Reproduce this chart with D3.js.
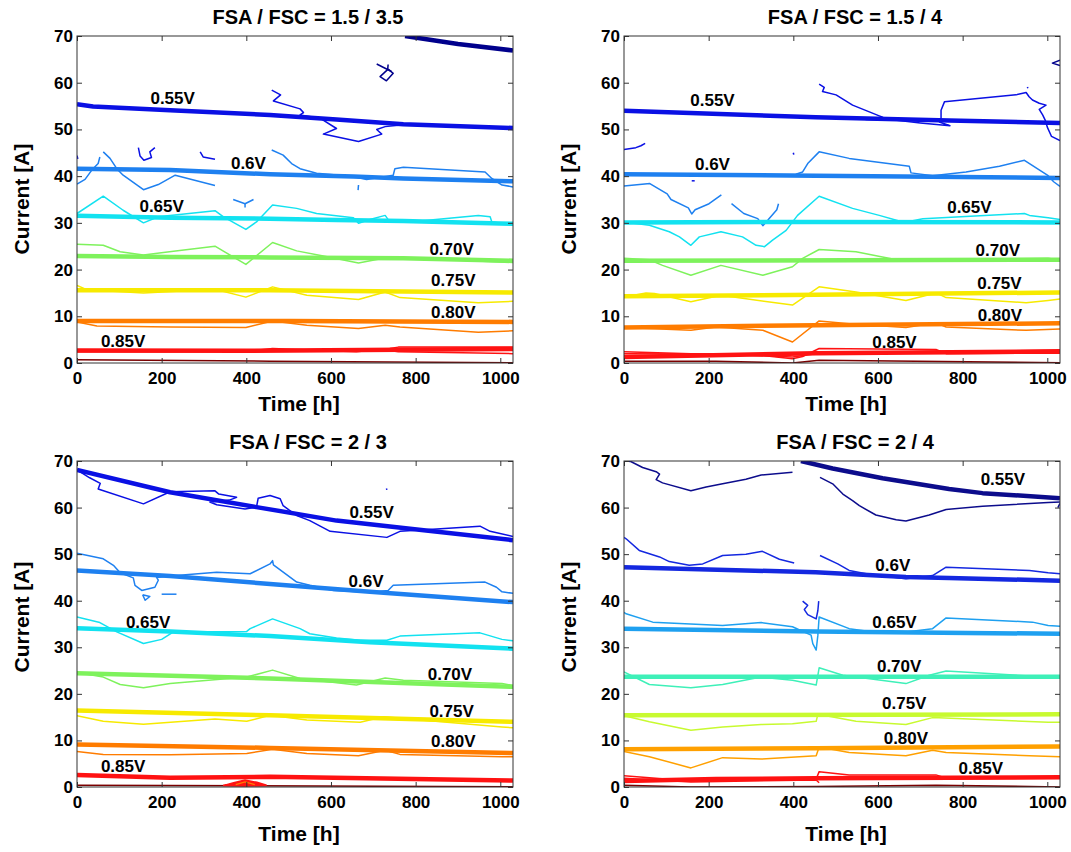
<!DOCTYPE html>
<html>
<head>
<meta charset="utf-8">
<script src="https://cdn.jsdelivr.net/npm/d3@7"></script>
<style>
  body { margin: 0; background: #fff; }
  svg { display: block; }
  text { font-family: "Liberation Sans", Arial, Helvetica, sans-serif; font-weight: bold; fill: #000; }
</style>
</head>
<body>
<svg id="fig" width="1071" height="852"></svg>
<script>
// ---------- shared axis data ----------
const panelTitles = ["FSA / FSC = 1.5 / 3.5", "FSA / FSC = 1.5 / 4", "FSA / FSC = 2 / 3", "FSA / FSC = 2 / 4"];
const xTickValues = [0, 200, 400, 600, 800, 1000];
const yTickValues = [0, 10, 20, 30, 40, 50, 60, 70];
const timeDomain = [0, 1030];
const currentDomain = [0, 70];
// cell voltage levels (index used by the series below)
const levelNames = ["0.5V", "0.55V", "0.6V", "0.65V", "0.70V", "0.75V", "0.80V", "0.85V", "0.9V"];

// ---------- FSA/FSC = 1.5/3.5 ----------
// fitted iso-voltage curves: [level, [[time h, current A], ...]]
const fit1 = [
  [0, [[775, 70], [900, 68.3], [1030, 66.9]]],
  [1, [[0, 55.4], [38, 54.9], [220, 54.1], [456, 53.1], [613, 52.1], [771, 51.1], [1030, 50.3]]],
  [2, [[0, 41.6], [220, 41.3], [456, 40.4], [653, 39.9], [771, 39.5], [1030, 38.9]]],
  [3, [[0, 31.5], [220, 31.1], [456, 30.9], [613, 30.6], [771, 30.4], [1030, 29.8]]],
  [4, [[0, 22.9], [220, 22.7], [456, 22.6], [771, 22.4], [1030, 21.9]]],
  [5, [[0, 15.6], [456, 15.6], [1030, 15.1]]],
  [6, [[0, 9.0], [500, 9.0], [1030, 8.8]]],
  [7, [[0, 2.7], [400, 2.6], [1030, 3.0]]]
];
// measured iso-voltage contours
const raw1 = [
  [0, [[708, 64.0], [743, 62.4]]],
  [0, [[735, 62.9], [716, 61.3], [731, 60.4], [747, 62.0], [735, 62.9]]],
  [0, [[735, 63.9], [734, 62.9]]],
  [1, [[460, 58.4], [481, 57.4], [464, 56.1], [527, 54.4], [535, 53.6], [527, 53.1], [574, 52.4], [613, 50.2], [582, 49.0], [665, 47.4], [720, 49.0], [708, 50.0], [728, 50.6], [759, 50.9]]],
  [1, [[145, 46.1], [149, 44.3], [158, 43.4], [176, 44.0], [172, 45.2], [184, 46.1]]],
  [1, [[291, 45.2], [298, 44.1], [326, 43.6]]],
  [1, [[0, 44.4], [2, 43.7]]],
  [2, [[0, 38.3], [19, 39.3], [35, 41.3], [50, 42.7], [54, 44.1]]],
  [2, [[62, 45.2], [78, 43.8], [94, 41.6], [109, 40.2], [157, 37.1], [192, 38.2], [232, 40.2], [326, 38.0]]],
  [2, [[460, 45.6], [487, 44.5], [507, 42.7], [527, 41.6], [566, 40.6], [653, 39.9], [684, 39.3], [747, 40.2], [751, 41.6], [771, 41.9], [964, 40.9], [980, 39.5], [1004, 38.1], [1030, 37.7]]],
  [2, [[665, 38.1], [664, 37.0]]],
  [2, [[369, 35.0], [397, 34.1], [417, 35.0]]],
  [2, [[397, 34.1], [397, 33.3]]],
  [3, [[0, 32], [62, 35.7], [109, 32.7], [157, 30], [192, 31.3], [326, 32.6], [346, 31.3], [399, 28.6], [424, 30.2], [462, 33.8], [519, 33.1], [566, 32], [653, 31.1], [665, 29.9], [692, 30.7], [728, 31.6], [739, 30.2], [810, 30.4], [948, 31.6], [976, 31.3], [980, 30.2], [1030, 29.6]]],
  [4, [[0, 25.4], [62, 25.2], [102, 23.8], [157, 23.1], [228, 23.9], [326, 25], [399, 21.1], [462, 25.8], [519, 24], [582, 22.9], [665, 21.4], [739, 22.7], [1030, 21.5]]],
  [5, [[0, 16.6], [23, 15.7], [157, 15], [326, 15.8], [399, 14.1], [462, 16.3], [543, 14.5], [665, 13.6], [728, 15.2], [763, 14], [948, 12.9], [1030, 13.2]]],
  [6, [[0, 8.8], [47, 7.9], [220, 7.7], [399, 7.6], [462, 9.0], [543, 8.1], [665, 7.4], [728, 8.1], [763, 7.7], [948, 6.6], [1030, 6.9]]],
  [7, [[0, 2.4], [220, 2.4], [399, 2.5], [462, 3.1], [660, 2.4], [739, 3.1], [759, 3.4], [1030, 3.4]]],
  [7, [[739, 2.7], [759, 2.4], [1030, 2.0]]],
  [8, [[0, 0.7], [456, 0.4], [1030, 0.05]]]
];
const tags1 = [["0.55V", 226, 56.6], ["0.6V", 405, 42.7], ["0.65V", 200, 33.4], ["0.70V", 885, 24.3], ["0.75V", 889, 17.6], ["0.80V", 889, 10.9], ["0.85V", 109, 4.5]];

// ---------- FSA/FSC = 1.5/4 ----------
const fit2 = [
  [1, [[0, 54], [453, 52.6], [768, 51.9], [1030, 51.4]]],
  [2, [[0, 40.4], [453, 40.1], [1030, 39.6]]],
  [3, [[0, 30.1], [453, 30.2], [1030, 30.1]]],
  [4, [[0, 21.9], [1030, 22.1]]],
  [5, [[0, 14.3], [453, 14.6], [1030, 15.1]]],
  [6, [[0, 7.6], [453, 8.1], [1030, 8.5]]],
  [7, [[0, 1.3], [453, 2.1], [1030, 2.5]]]
];
const raw2 = [
  [0, [[1030, 64.8], [1012, 64.2], [1030, 63.7]]],
  [1, [[461, 59.7], [473, 59], [469, 58.1], [501, 57.4], [540, 55.2], [603, 52.9], [611, 52.6], [572, 52.1], [640, 52.0], [700, 51.4], [770, 50.8], [745, 51.6], [749, 52.4], [749, 54.1], [757, 55.9], [926, 57.4], [950, 57.9], [957, 57.0], [965, 56.3], [981, 55.6], [997, 55.2], [981, 54.3], [989, 53.1], [995, 52], [1000, 50.5], [1010, 48.5], [1030, 47.6]]],
  [1, [[0, 45.7], [28, 46.1], [40, 46.5], [50, 47]]],
  [1, [[953, 59.1], [954, 58.8]]],
  [1, [[400, 45], [401, 44.6]]],
  [1, [[160, 39], [167, 39]]],
  [2, [[406, 40.4], [422, 40.9], [434, 42.7], [461, 45.2], [532, 43.8], [674, 42.1], [678, 40.7], [729, 40.1], [808, 40.9], [887, 42.1], [946, 43.4], [1002, 40.1], [1015, 38.8], [1030, 37.8]]],
  [2, [[0, 37.9], [61, 38.4], [102, 36.2], [111, 35], [152, 33.2], [160, 31.9], [168, 32.8], [201, 34.1], [230, 36]]],
  [2, [[254, 34.1], [283, 32], [316, 30.9], [328, 29.4], [340, 30.6], [361, 32.8], [365, 34.1]]],
  [3, [[0, 30.2], [60, 29.5], [107, 28.1], [131, 27], [158, 25.2], [178, 27], [229, 28.1], [280, 27], [312, 25.2], [332, 24.9], [351, 26.3], [383, 28.4], [410, 31.6], [461, 35.7], [540, 33.1], [603, 31.6], [650, 30.4], [658, 30], [706, 30.9], [946, 32], [958, 31.6], [1002, 31.1], [1030, 30.7]]],
  [4, [[0, 22.4], [60, 22.1], [91, 20.9], [158, 18.8], [229, 20.9], [328, 18.8], [398, 20.6], [422, 22.4], [461, 24.3], [548, 23.8], [650, 22], [1002, 22.4], [1030, 22.0]]],
  [5, [[0, 14.1], [52, 15], [72, 14.9], [158, 13.1], [229, 14.5], [398, 12.4], [461, 16.3], [548, 15.2], [666, 13.4], [737, 15], [761, 14], [950, 12.9], [1002, 13.4], [1030, 13.7]]],
  [6, [[0, 7.6], [158, 7], [217, 7.7], [328, 7], [398, 4.5], [461, 9], [532, 8.4], [666, 7.6], [737, 8.6], [761, 7.7], [950, 7], [1030, 7.3]]],
  [7, [[0, 2.4], [158, 2], [328, 1.6], [398, 0.9], [422, 1.4], [461, 3.1], [737, 2.9], [761, 2], [1030, 2.1]]],
  [7, [[0, 2.0], [217, 1.9], [398, 1.3], [453, 2], [737, 2.5], [1030, 2.7]]],
  [8, [[0, 0.4], [217, 0.4], [398, 0], [461, 0.6], [1030, 0.05]]]
];
const tags2 = [["0.55V", 209, 56.1], ["0.6V", 209, 42.4], ["0.65V", 816, 33.3], ["0.70V", 883, 24.1], ["0.75V", 887, 17.1], ["0.80V", 888, 10.2], ["0.85V", 639, 4.3]];

// ---------- FSA/FSC = 2/3 ----------
const fit3 = [
  [1, [[0, 68.1], [220, 63.3], [424, 60.1], [613, 57.2], [771, 55.6], [1030, 53.0]]],
  [2, [[0, 46.5], [220, 45.3], [456, 43.6], [692, 41.9], [1030, 39.7]]],
  [3, [[0, 34.1], [220, 33.4], [456, 32.4], [692, 31.1], [1030, 29.7]]],
  [4, [[0, 24.4], [456, 23.3], [1030, 21.5]]],
  [5, [[0, 16.4], [456, 15.4], [1030, 14.0]]],
  [6, [[0, 9.1], [456, 8.4], [1030, 7.3]]],
  [7, [[0, 2.6], [220, 2.0], [456, 2.2], [1030, 1.4]]]
];
const raw3 = [
  [1, [[0, 68.1], [30, 66.4], [55, 65.2], [50, 64.0], [157, 60.8], [220, 63.4], [326, 63.6], [335, 62.9], [377, 62.2], [360, 61.6], [330, 61.3], [314, 61.2], [330, 60.6], [397, 59.7], [424, 60.1], [428, 62.0], [456, 62.6], [480, 61.9], [487, 60.4], [519, 58.3], [550, 57.2], [598, 54.9], [732, 53.6], [763, 54.9], [850, 55.4], [952, 56.0], [976, 54.9], [1030, 53.8]]],
  [1, [[731, 64.1], [732, 63.8]]],
  [2, [[0, 50.2], [62, 49], [86, 47.6], [102, 46], [133, 44.9], [137, 43.3], [153, 42.2], [184, 42.9], [192, 44.4], [188, 45.0], [220, 45.3], [330, 46.1], [409, 45.8], [456, 47.9], [462, 48.6], [464, 47.7], [519, 44], [550, 43.3], [606, 42.2], [692, 41.8], [735, 42.2], [747, 43.3], [964, 44], [991, 42.9], [1004, 41.9], [1030, 41.6]]],
  [2, [[155, 41.3], [172, 40.9], [161, 40.1], [155, 41.3]]],
  [2, [[200, 41.4], [235, 41.4]]],
  [3, [[0, 36.5], [54, 35.3], [94, 33.3], [157, 30.8], [200, 31.7], [228, 33.3], [401, 33.4], [409, 34], [462, 36.1], [527, 34], [550, 32.9], [613, 32], [669, 31.5], [732, 31.5], [763, 32.4], [952, 33.1], [1004, 31.7], [1030, 31.4]]],
  [4, [[0, 24.6], [62, 23.6], [102, 22], [157, 21.3], [220, 22.2], [401, 23.6], [462, 25.1], [527, 23.3], [660, 21.9], [728, 23.4], [771, 22.9], [1004, 22.2], [1030, 21.8]]],
  [5, [[0, 15.3], [62, 14.1], [157, 13.5], [326, 14.6], [401, 14.1], [456, 15.4], [543, 14.4], [669, 13.9], [724, 15.1], [1004, 12.9], [1030, 12.7]]],
  [6, [[0, 7.6], [62, 7], [220, 6.9], [401, 7.2], [462, 8.1], [543, 7.2], [665, 6.7], [728, 7.9], [763, 7], [1004, 6.5], [1030, 6.5]]],
  [8, [[0, 0.4], [1030, 0.05]]]
];
// closed island around 400 h near zero current
const island3 = [
  [7, [[345, 0.3], [370, 0.9], [397, 1.5], [425, 1.0], [448, 0.4], [397, 0.2]]]
];
const islandInner3 = [
  [6, [[375, 0.5], [397, 1.1], [420, 0.5]]]
];
const tags3 = [["0.55V", 696, 59], ["0.6V", 683, 44.1], ["0.65V", 168, 35.4], ["0.70V", 881, 24.1], ["0.75V", 885, 16.3], ["0.80V", 889, 9.7], ["0.85V", 109, 4.4]];

// ---------- FSA/FSC = 2/4 ----------
const fit4 = [
  [1, [[418, 70], [493, 68.4], [611, 66.3], [768, 64], [847, 63.1], [1030, 62]]],
  [2, [[0, 47.2], [453, 46.1], [666, 45.1], [768, 44.9], [1030, 44.3]]],
  [3, [[0, 34], [453, 33.4], [1030, 32.9]]],
  [4, [[0, 23.7], [1030, 23.7]]],
  [5, [[0, 15.4], [1030, 15.6]]],
  [6, [[0, 8.1], [453, 8.3], [1030, 8.7]]],
  [7, [[0, 1.3], [217, 1.7], [453, 1.9], [1030, 2.1]]]
];
const raw4 = [
  [1, [[5, 70], [16, 69.9], [44, 68.6], [76, 67.7], [84, 67.2], [76, 66], [91, 65.3], [158, 63.6], [194, 64.4], [233, 65.1], [288, 66.1], [324, 67], [398, 67.6]]],
  [1, [[463, 66.5], [493, 65.1], [517, 62.9], [540, 61.5], [556, 60.4], [595, 58.4], [643, 57.4], [666, 57.1], [721, 58.4], [761, 59.6], [847, 60.3], [1002, 61.1], [1030, 61.2]]],
  [1, [[1030, 60.9], [1025, 60.0]]],
  [2, [[0, 53.6], [5, 53.3], [36, 50.8], [84, 49.4], [107, 48.4], [154, 47.6], [186, 47.9], [233, 49.7], [288, 50], [327, 50.6], [367, 48.9], [402, 48.1]]],
  [2, [[463, 49.7], [505, 47.9], [532, 46.5], [572, 45.8], [666, 44.7], [729, 45.4], [761, 47.2], [958, 46.5], [1002, 46], [1030, 45.8]]],
  [2, [[422, 39.9], [434, 39], [426, 38.1], [434, 37], [454, 36.1], [458, 37.9], [460, 39.9]]],
  [3, [[0, 37.5], [5, 37.2], [68, 35.4], [233, 34.7], [324, 35.3], [398, 34.4], [442, 32.6], [446, 30.8], [454, 29.4], [458, 32.6], [461, 36.5], [532, 34], [580, 33.4], [666, 33.3], [729, 34], [761, 36.3], [965, 35.4], [1002, 34.7], [1030, 34.5]]],
  [4, [[0, 24.7], [60, 22], [158, 21.3], [233, 22], [324, 23.6], [398, 22.9], [454, 21.9], [461, 25.6], [517, 24], [666, 22.2], [721, 24], [761, 24.9], [1002, 23.6], [1030, 23.5]]],
  [5, [[0, 15.3], [60, 14], [158, 12.2], [233, 12.9], [324, 13.4], [398, 13.6], [454, 14.1], [458, 15.6], [548, 14.1], [666, 13.4], [729, 14.9], [1002, 13.9], [1030, 13.9]]],
  [6, [[0, 7.6], [60, 6.5], [158, 4.1], [233, 6.3], [324, 6], [454, 6.7], [461, 8.6], [532, 7.4], [666, 6.7], [729, 7.9], [761, 7.4], [958, 6.7], [1030, 6.5]]],
  [7, [[0, 2.4], [60, 2], [158, 1.3], [454, 1.7], [461, 3.3], [532, 2.6], [737, 2.6], [761, 1.9], [1030, 2.0]]],
  [7, [[0, 1.9], [158, 1.1], [454, 1.5], [461, 0.9]]],
  [8, [[0, 0.4], [158, 0], [454, 0.1], [737, 0.4], [1030, 0]]]
];
const tags4 = [["0.55V", 895, 66], ["0.6V", 635, 47.6], ["0.65V", 639, 35.4], ["0.70V", 650, 25.8], ["0.75V", 662, 17.9], ["0.80V", 666, 10.4], ["0.85V", 843, 4]];

// ---------- colour maps (jet-like, one per colour scaling) ----------
const jetWide = ["#00008c", "#0a10e4", "#1e80f0", "#12e2f0", "#7ef25c", "#f7ea00", "#ff7c00", "#ff1212", "#7a0000"];
const jetNarrow = ["#00008c", "#0c0c8c", "#1428e0", "#1ea0f0", "#3ef0b8", "#c8fa30", "#ffa000", "#ff1212", "#7a0000"];

// ---------- layout ----------
const panels = [
  { title: panelTitles[0], fit: fit1, raw: raw1, tags: tags1, colors: jetWide, box: [77, 513, 36, 363], titleY: 24, xlabY: 411, ylabY: 199 },
  { title: panelTitles[1], fit: fit2, raw: raw2, tags: tags2, colors: jetWide, box: [624, 1060, 36, 363], titleY: 24, xlabY: 411, ylabY: 199 },
  { title: panelTitles[2], fit: fit3, raw: raw3, tags: tags3, colors: jetWide, box: [77, 513, 461, 787], titleY: 449, xlabY: 841, ylabY: 617, island: island3, islandInner: islandInner3 },
  { title: panelTitles[3], fit: fit4, raw: raw4, tags: tags4, colors: jetNarrow, box: [624, 1060, 461, 787], titleY: 449, xlabY: 841, ylabY: 617 }
];

const svg = d3.select("#fig");
const intFmt = d3.format("d");

panels.forEach((p, i) => {
  const [x0, x1, y0, y1] = p.box;
  const x = d3.scaleLinear().domain(timeDomain).range([x0, x1]);
  const y = d3.scaleLinear().domain(currentDomain).range([y1, y0]);
  const line = d3.line().x(d => x(d[0])).y(d => y(d[1]));

  const clipId = "clip" + i;
  svg.append("clipPath").attr("id", clipId)
    .append("rect").attr("x", x0).attr("y", y0).attr("width", x1 - x0).attr("height", y1 - y0);

  const plot = svg.append("g").attr("clip-path", `url(#${clipId})`);

  // measured contours (thin)
  plot.selectAll("path.raw").data(p.raw).join("path")
    .attr("class", "raw")
    .attr("d", d => line(d[1]))
    .attr("fill", "none")
    .attr("stroke", d => p.colors[d[0]])
    .attr("stroke-width", 1.5)
    .attr("stroke-linejoin", "round");

  if (p.island) {
    plot.selectAll("path.island").data(p.island).join("path")
      .attr("class", "island")
      .attr("d", d => line(d[1]) + "Z")
      .attr("fill", d => p.colors[d[0]])
      .attr("stroke", d => p.colors[d[0]])
      .attr("stroke-width", 1.5);
    plot.selectAll("path.islandInner").data(p.islandInner).join("path")
      .attr("class", "islandInner")
      .attr("d", d => line(d[1]))
      .attr("fill", "none")
      .attr("stroke", d => p.colors[d[0]])
      .attr("stroke-width", 1.2);
  }

  // fitted curves (thick)
  plot.selectAll("path.fit").data(p.fit).join("path")
    .attr("class", "fit")
    .attr("d", d => line(d[1]))
    .attr("fill", "none")
    .attr("stroke", d => p.colors[d[0]])
    .attr("stroke-width", 4.5)
    .attr("stroke-linecap", "butt")
    .attr("stroke-linejoin", "round");

  // axes with inward ticks on all four sides
  const tick = 5;
  const gb = svg.append("g").attr("transform", `translate(0,${y1})`)
    .call(d3.axisBottom(x).tickValues(xTickValues).tickFormat(intFmt).tickSizeInner(-tick).tickSizeOuter(0).tickPadding(9));
  const gt = svg.append("g").attr("transform", `translate(0,${y0})`)
    .call(d3.axisTop(x).tickValues(xTickValues).tickSizeInner(-tick).tickSizeOuter(0).tickFormat(""));
  const gl = svg.append("g").attr("transform", `translate(${x0},0)`)
    .call(d3.axisLeft(y).tickValues(yTickValues).tickFormat(intFmt).tickSizeInner(-tick).tickSizeOuter(0).tickPadding(4));
  const gr = svg.append("g").attr("transform", `translate(${x1},0)`)
    .call(d3.axisRight(y).tickValues(yTickValues).tickSizeInner(-tick).tickSizeOuter(0).tickFormat(""));
  [gb, gt, gl, gr].forEach(g => {
    g.select(".domain").remove();
    g.selectAll(".tick line").attr("stroke", "#333").attr("stroke-width", 1);
    g.selectAll(".tick text")
      .style("font-family", '"Liberation Sans", Arial, sans-serif')
      .style("font-weight", "bold")
      .style("font-size", "17px")
      .attr("fill", "#000");
  });

  svg.append("rect")
    .attr("x", x0).attr("y", y0).attr("width", x1 - x0).attr("height", y1 - y0)
    .attr("fill", "none").attr("stroke", "#333").attr("stroke-width", 1);

  // contour level labels
  svg.append("g").selectAll("text").data(p.tags).join("text")
    .attr("x", d => x(d[1]))
    .attr("y", d => y(d[2]))
    .attr("text-anchor", "middle")
    .attr("dominant-baseline", "central")
    .style("font-size", "17px")
    .text(d => d[0]);

  // title and axis titles
  const cx = (x0 + x1) / 2;
  svg.append("text").attr("x", cx + 13).attr("y", p.titleY)
    .attr("text-anchor", "middle").style("font-size", "20px").text(p.title);
  svg.append("text").attr("x", cx + 4).attr("y", p.xlabY)
    .attr("text-anchor", "middle").style("font-size", "21px").text("Time [h]");
  svg.append("text")
    .attr("transform", `translate(${x0 - 48},${p.ylabY}) rotate(-90)`)
    .attr("text-anchor", "middle").style("font-size", "21px").text("Current [A]");
});
</script>
</body>
</html>
